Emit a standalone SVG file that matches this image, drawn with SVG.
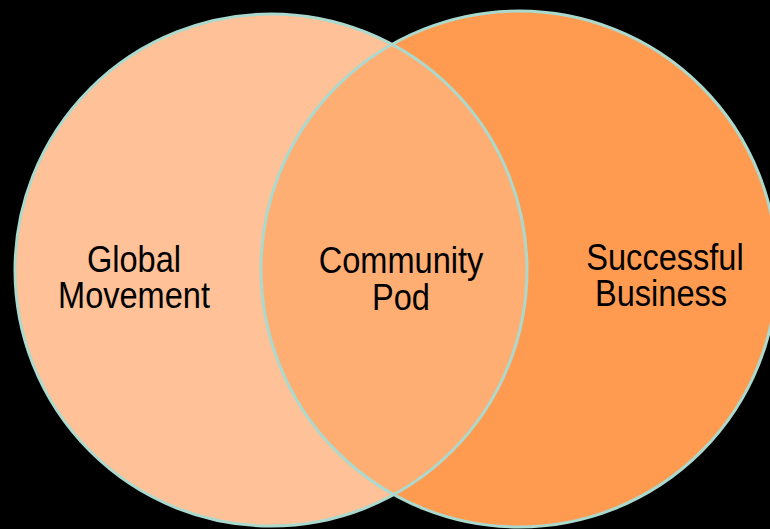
<svg xmlns="http://www.w3.org/2000/svg" width="770" height="529" viewBox="0 0 770 529">
  <defs>
    <clipPath id="clip-left">
      <circle cx="271" cy="270" r="256"/>
    </clipPath>
  </defs>
  <style>
    .ring { fill: none; stroke: #abd9cd; stroke-width: 3; }
    .label { font-family: "Liberation Sans", Arial, sans-serif; font-size: 37px; fill: #000; text-anchor: middle; }
  </style>
  <rect width="770" height="529" fill="#000"/>

  <g id="global-movement">
    <circle cx="271" cy="270" r="256" fill="#ffc197"/>
  </g>
  <g id="successful-business">
    <circle cx="519" cy="269" r="258" fill="#ff9b50"/>
  </g>
  <g id="community-pod">
    <circle cx="519" cy="269" r="258" fill="#ffae73" clip-path="url(#clip-left)"/>
  </g>

  <g id="outlines">
    <circle class="ring" cx="271" cy="270" r="256"/>
    <circle class="ring" cx="519" cy="269" r="258" stroke="#cdeadf"/>
  </g>

  <!-- condensed labels: horizontal squeeze of the sans face -->
  <g id="labels">
    <text class="label" transform="translate(134,272) scale(0.88,1)">Global</text>
    <text class="label" transform="translate(134,308) scale(0.88,1)">Movement</text>
    <text class="label" transform="translate(401,273) scale(0.88,1)">Community</text>
    <text class="label" transform="translate(401,310) scale(0.88,1)">Pod</text>
    <text class="label" transform="translate(665,270) scale(0.88,1)">Successful</text>
    <text class="label" transform="translate(661,306) scale(0.88,1)">Business</text>
  </g>
</svg>
